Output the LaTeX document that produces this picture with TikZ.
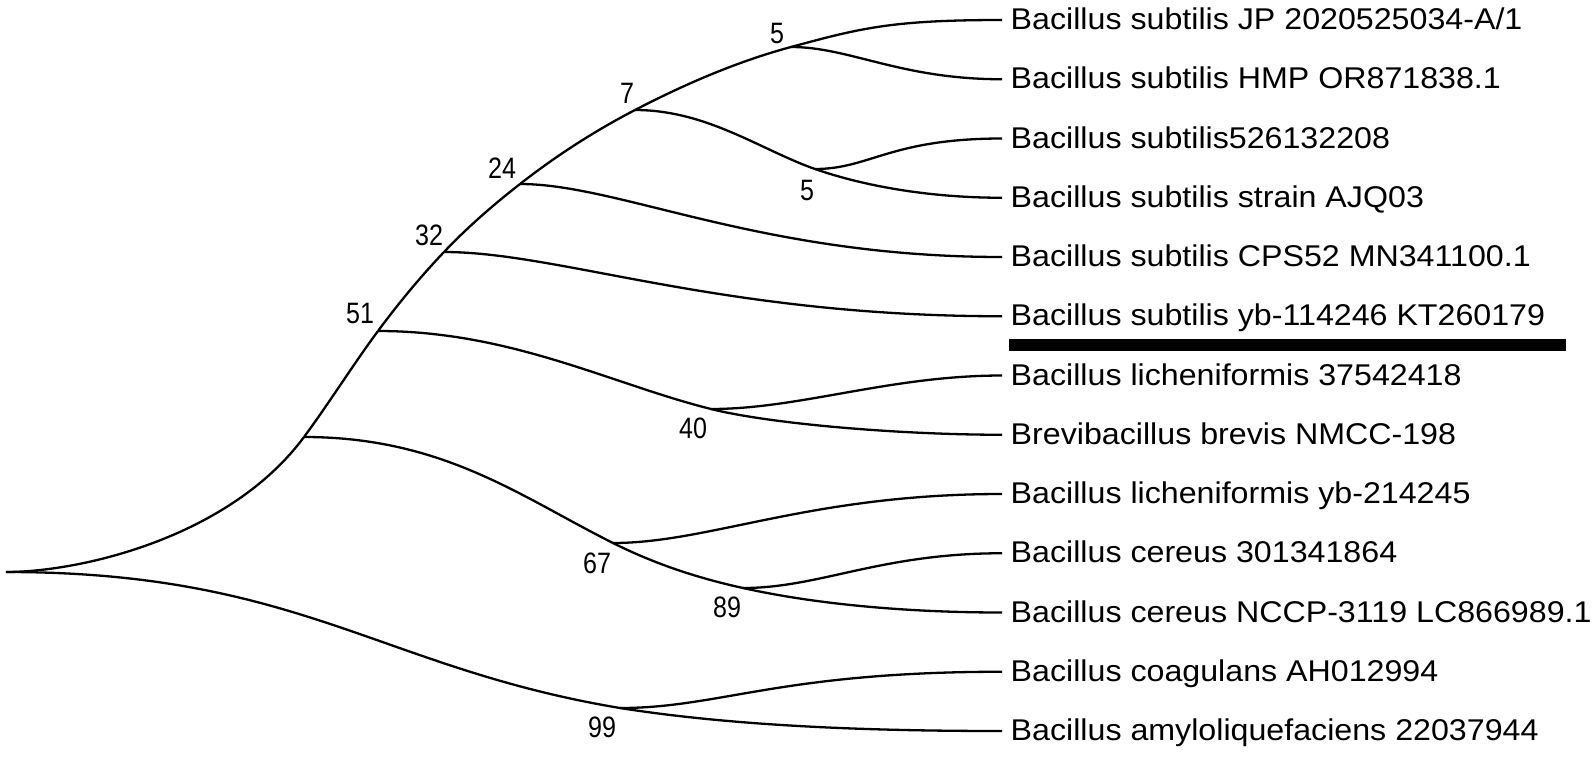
\documentclass[tikz,border=0pt]{standalone}
\usepackage{fontspec}
\newfontfamily\leaffont{Liberation Sans}[FakeStretch=1.073]
\newfontfamily\bootfont{Liberation Sans}[FakeStretch=0.85]
\usetikzlibrary{calc}
\tikzset{
  tree/.style={line width=2.3pt, line join=round},
  leaf/.style={font=\leaffont\fontsize{30}{32}\selectfont, anchor=base west, inner sep=0pt, xshift=8.5pt, yshift=-9.5pt},
  boot/.style={font=\bootfont\fontsize{29.5}{31}\selectfont, inner sep=0pt},
  markbar/.style={fill=black, minimum width=557pt, minimum height=12pt, inner sep=0pt, anchor=west}
}
\begin{document}
\begin{tikzpicture}[x=1pt,y=-1pt]
\useasboundingbox (0,0) rectangle (1595,758);
\fill[white] (0,0) rectangle (1595,758);
% internal nodes
\coordinate (R) at (6,572);
\coordinate (A) at (304,437);
\coordinate (n51) at (378,331);
\coordinate (n32) at (444,252);
\coordinate (n24) at (520,184);
\coordinate (n7) at (635,110);
\coordinate (n5a) at (791,47);
\coordinate (n5b) at (815,169);
\coordinate (n40) at (711,409);
\coordinate (n67) at (613,543);
\coordinate (n89) at (743,588);
\coordinate (n99) at (620,708);
% leaf tips
\coordinate (t1) at (1002,20);
\coordinate (t2) at (1002,79.25);
\coordinate (t3) at (1002,138.5);
\coordinate (t4) at (1002,197.75);
\coordinate (t5) at (1002,257);
\coordinate (t6) at (1002,316.25);
\coordinate (t7) at (1002,375.5);
\coordinate (t8) at (1002,434.75);
\coordinate (t9) at (1002,494);
\coordinate (t10) at (1002,553.25);
\coordinate (t11) at (1002,612.5);
\coordinate (t12) at (1002,671.75);
\coordinate (t13) at (1002,731);
% branches
\draw[tree] (R) .. controls (80.5,572) and (229.5,537.6) .. (A);
\draw[tree] (A) .. controls (328.7,403.7) and (353.3,364.3) .. (n51);
\draw[tree] (n51) .. controls (400,301.3) and (422,275.1) .. (n32);
\draw[tree] (n32) .. controls (469.3,225.4) and (494.7,203.8) .. (n24);
\draw[tree] (n24) .. controls (558.3,154.1) and (596.7,129.9) .. (n7);
\draw[tree] (n7) .. controls (687,83) and (739,61) .. (n5a);
\draw[tree] (n5a) .. controls (861,28) and (892,20) .. (t1);
\draw[tree] (n5a) .. controls (850,47) and (900,79.25) .. (t2);
\draw[tree] (n7) .. controls (707,110) and (761,150.1) .. (n5b);
\draw[tree] (n5b) .. controls (870,169) and (890,138.5) .. (t3);
\draw[tree] (n5b) .. controls (855,183) and (920,197.75) .. (t4);
\draw[tree] (n24) .. controls (620,184) and (760,257) .. (t5);
\draw[tree] (n32) .. controls (560,252) and (720,316.25) .. (t6);
\draw[tree] (n51) .. controls (511,331) and (611,384) .. (n40);
\draw[tree] (n40) .. controls (800,409) and (890,375.5) .. (t7);
\draw[tree] (n40) .. controls (771,424) and (900,434.75) .. (t8);
\draw[tree] (A) .. controls (443,437) and (520.3,496.6) .. (n67);
\draw[tree] (n67) .. controls (656.3,564.7) and (699.7,578.5) .. (n89);
\draw[tree] (n89) .. controls (810,603) and (900,612.5) .. (t11);
\draw[tree] (n89) .. controls (820,588) and (880,553.25) .. (t10);
\draw[tree] (n67) .. controls (710,543) and (810,494) .. (t9);
\draw[tree] (R) .. controls (300,572) and (380,668) .. (n99);
\draw[tree] (n99) .. controls (740,727) and (880,731) .. (t13);
\draw[tree] (n99) .. controls (720,708) and (780,671.75) .. (t12);
% leaf labels
\node[leaf] (l1) at (t1) {Bacillus subtilis JP 2020525034-A/1};
\node[leaf] (l2) at (t2) {Bacillus subtilis HMP OR871838.1};
\node[leaf] (l3) at (t3) {Bacillus subtilis526132208};
\node[leaf] (l4) at (t4) {Bacillus subtilis strain AJQ03};
\node[leaf] (l5) at (t5) {Bacillus subtilis CPS52 MN341100.1};
\node[leaf] (l6) at (t6) {Bacillus subtilis yb-114246 KT260179};
\node[leaf] (l7) at (t7) {Bacillus licheniformis 37542418};
\node[leaf] (l8) at (t8) {Brevibacillus brevis NMCC-198};
\node[leaf] (l9) at (t9) {Bacillus licheniformis yb-214245};
\node[leaf] (l10) at (t10) {Bacillus cereus 301341864};
\node[leaf] (l11) at (t11) {Bacillus cereus NCCP-3119 LC866989.1};
\node[leaf] (l12) at (t12) {Bacillus coagulans AH012994};
\node[leaf] (l13) at (t13) {Bacillus amyloliquefaciens 22037944};
\node[markbar] (bar) at (1009,345) {};
% bootstrap values
\node[boot] (b5a) at (777,33) {5};
\node[boot] (b7) at (627,93) {7};
\node[boot] (b24) at (502,168) {24};
\node[boot] (b32) at (429,235) {32};
\node[boot] (b51) at (360,313) {51};
\node[boot] (b5b) at (807,190) {5};
\node[boot] (b40) at (693,428) {40};
\node[boot] (b67) at (597,563) {67};
\node[boot] (b89) at (727,607) {89};
\node[boot] (b99) at (602,727) {99};
\end{tikzpicture}
\end{document}
